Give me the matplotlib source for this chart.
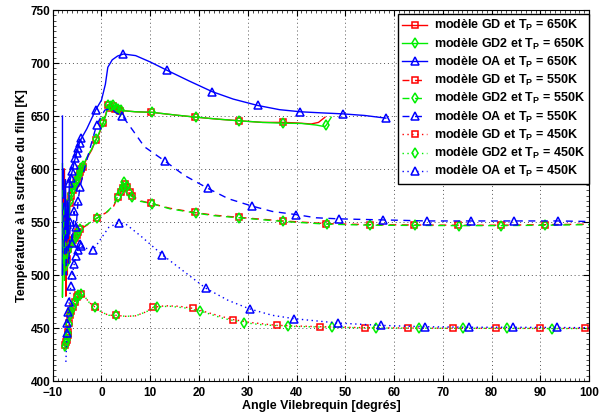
import matplotlib
matplotlib.use("Agg")
import matplotlib.pyplot as plt
from matplotlib.ticker import MultipleLocator

plt.rcParams['font.family'] = ['Liberation Sans', 'DejaVu Sans']
plt.rcParams['font.weight'] = 'bold'
plt.rcParams['mathtext.fontset'] = 'custom'
plt.rcParams['mathtext.rm'] = 'Liberation Sans:bold'
plt.rcParams['mathtext.bf'] = 'Liberation Sans:bold'
plt.rcParams['mathtext.it'] = 'Liberation Sans:bold'

# ---------------- data (x = crank angle [deg], y = temperature [K], m = marker shown) -------------
# GD, Tp = 650K
gd650_x = [-7.6, -7.5, -7.4, -7.3, -7.2, -7.0, -6.9, -6.7, -6.5, -6.2, -5.9, -5.6, -5.3, -5.0, -4.7, -4.4, -4.1, -3.8,
           -3.0, -2.0, -1.2, -0.5, 0.3, 0.8, 1.3, 1.8, 2.3, 2.8, 3.3, 3.8, 4.5, 7.0, 10.2, 15.0, 19.1, 24.0, 28.1, 33.0,
           37.2, 40.0, 43.0, 44.5, 45.8]
gd650_y = [600, 520, 590, 480, 560, 500, 540, 520, 568, 575, 580, 584, 587, 590, 593, 597, 600, 602,
           610, 618, 627, 633, 643, 650, 660, 658, 659, 657, 657, 655, 655, 654, 653.5, 651, 649, 647, 645.6, 644,
           644, 643.5, 642.5, 644, 648.8]
gd650_m = [0, 0, 0, 0, 0, 0, 0, 0, 1, 1, 1, 1, 1, 1, 1, 1, 1, 1,
           0, 0, 1, 0, 1, 0, 1, 1, 1, 1, 1, 1, 0, 0, 1, 0, 1, 0, 1, 0,
           1, 0, 0, 0, 0]

# GD2, Tp = 650K
gd2650_x = [-8.0, -8.0, -7.8, -7.6, -7.4, -7.2, -7.0, -6.8, -6.5, -6.2, -5.9, -5.6, -5.3, -5.0, -4.7, -4.4, -4.1, -3.8,
            -3.0, -2.0, -1.1, -0.5, 0.4, 0.9, 1.4, 1.9, 2.4, 2.9, 3.4, 3.9, 4.5, 7.0, 10.4, 15.0, 19.3, 24.0, 28.2, 33.0,
            37.3, 41.0, 44.0, 45.8, 46.1, 47.1]
gd2650_y = [605, 479, 560, 500, 580, 510, 550, 525, 570, 576, 581, 585, 588, 591, 594, 598, 601, 603,
            611, 619, 628, 634, 644, 651, 660, 659, 660, 658, 657, 656, 655, 654, 653.5, 651, 649, 647, 645.5, 644,
            643.2, 643, 641.5, 640, 641.5, 648.8]
gd2650_m = [0, 0, 0, 0, 0, 0, 0, 0, 1, 1, 1, 1, 1, 1, 1, 1, 1, 1,
            0, 0, 1, 0, 1, 0, 1, 1, 1, 1, 1, 1, 0, 0, 1, 0, 1, 0, 1, 0,
            1, 0, 0, 0, 1, 0]

# OA, Tp = 650K
oa650_x = [-8.0, -8.0, -7.8, -7.6, -7.4, -7.2, -7.0, -6.8, -6.6, -6.3, -6.0, -5.7, -5.4, -5.1, -4.8, -4.5, -4.1,
           -3.0, -1.2, 0.0, 0.8, 1.3, 2.2, 3.3, 4.5, 7.0, 10.0, 13.5, 18.0, 22.7, 27.0, 32.0, 36.5, 40.8, 45.0,
           49.6, 54.0, 58.3]
oa650_y = [650, 500, 600, 520, 590, 510, 570, 530, 587, 592, 598, 604, 610, 615, 620, 625, 629,
           638, 655.7, 665, 680, 696, 703, 706.6, 708.5, 707, 701, 693, 683, 673, 666, 660, 656, 654, 653,
           652, 650.5, 648]
oa650_m = [0, 0, 0, 0, 0, 0, 0, 0, 1, 1, 1, 1, 1, 1, 1, 1, 1,
           0, 1, 0, 0, 0, 0, 0, 1, 0, 0, 1, 0, 1, 0, 1, 0, 1, 0,
           1, 0, 1]

# GD, Tp = 550K
gd550_x = [-7.8, -7.7, -7.6, -7.5, -7.4, -7.2, -7.0, -6.8, -6.3, -5.8, -5.5, -5.1, -4.8, -4.4, -3.0, -1.0, 1.0, 2.5,
           3.4, 4.0, 4.5, 4.8, 5.3, 5.8, 6.3, 8.0, 10.1, 14.0, 19.1, 23.0, 28.1, 37.2, 46.1, 55.0, 64.1, 73.1, 81.9,
           90.9, 100.0]
gd550_y = [572, 520, 560, 500, 540, 505, 515, 525, 530, 533, 535, 538, 541, 543, 547, 553.5, 559, 565,
           574, 578, 582, 586, 583, 578, 574.5, 570, 567.6, 563, 559, 556.5, 554.4, 551, 548.5, 547.5, 547.2, 547, 547,
           547.5, 548]
gd550_m = [0, 0, 0, 0, 0, 0, 1, 1, 1, 1, 1, 1, 1, 1, 0, 1, 0, 0,
           1, 1, 1, 1, 1, 1, 1, 0, 1, 0, 1, 0, 1, 1, 1, 1, 1, 1, 1,
           1, 0]

# GD2, Tp = 550K
gd2550_x = [-7.9, -7.8, -7.7, -7.6, -7.4, -7.2, -7.0, -6.8, -6.3, -5.8, -5.5, -5.1, -4.8, -4.4, -3.0, -1.0, 1.0, 2.5,
            3.3, 3.9, 4.4, 4.7, 5.2, 5.7, 6.2, 8.0, 10.3, 14.0, 19.3, 23.0, 28.2, 37.3, 46.2, 55.1, 64.2, 73.2, 82.0,
            91.0, 100.0]
gd2550_y = [580, 510, 565, 495, 545, 500, 512, 523, 529, 532, 535, 538, 541, 543.5, 547.5, 553.5, 559, 566,
            574, 579, 583, 588, 584, 578, 574, 569.5, 567.4, 562.5, 558.5, 556, 554, 550.5, 548, 547, 546.8, 546.6, 546.6,
            547, 547.5]
gd2550_m = gd550_m

# OA, Tp = 550K
oa550_x = [-7.8, -7.6, -7.4, -7.2, -7.0, -6.7, -6.4, -6.0, -5.6, -5.2, -4.8, -4.4, -3.5, -2.2, -1.0, 0.0, 0.7, 2.0,
           3.0, 4.3, 6.5, 8.8, 13.0, 17.0, 21.8, 26.0, 30.9, 35.0, 39.9, 44.0, 48.6, 53.0, 57.7, 66.8, 75.7, 84.6,
           93.7, 100.0]
oa550_y = [580, 520, 570, 500, 560, 510, 550, 530, 560, 545, 570, 583, 600, 622, 641.5, 650, 655.7, 657,
           653, 650, 636, 621, 607.5, 594, 581.8, 572, 565, 560, 557, 554, 553, 552.5, 552, 551, 551, 551,
           551, 550.5]
oa550_m = [0, 0, 0, 0, 0, 0, 1, 1, 1, 1, 1, 1, 0, 0, 1, 0, 0, 0,
           0, 1, 0, 0, 1, 0, 1, 0, 1, 0, 1, 0, 1, 0, 1, 1, 1, 1,
           1, 0]

# GD, Tp = 450K
gd450_x = [-7.6, -7.5, -7.3, -7.1, -6.9, -6.8, -6.6, -6.5, -6.2, -5.8, -5.5, -5.1, -4.8, -4.3, -3.5, -2.5, -1.4, 0.0,
           1.5, 2.9, 5.0, 7.0, 9.0, 10.6, 13.0, 16.0, 18.8, 23.0, 26.9, 31.0, 36.0, 44.9, 54.0, 62.9, 72.0, 80.9,
           89.9, 99.1]
gd450_y = [430, 434, 437, 439, 443, 446, 455, 462, 466, 470, 475, 479, 481, 482.5, 480, 474, 470, 465,
           462, 462, 461, 461.5, 465, 469.5, 471, 470.5, 468.5, 463, 458, 455, 452.5, 451.2, 450.3, 450, 449.8, 449.7,
           449.7, 449.7]
gd450_m = [0, 1, 1, 1, 1, 1, 1, 1, 1, 1, 1, 1, 1, 1, 0, 0, 1, 0,
           0, 1, 0, 0, 0, 1, 0, 0, 1, 0, 1, 0, 1, 1, 1, 1, 1, 1,
           1, 1]

# GD2, Tp = 450K
gd2450_x = [-7.6, -7.5, -7.3, -7.1, -6.9, -6.8, -6.6, -6.5, -6.2, -5.8, -5.5, -5.1, -4.8, -4.3, -3.5, -2.5, -1.4, 0.0,
            1.5, 2.9, 5.0, 7.0, 9.0, 11.4, 14.0, 17.0, 20.3, 25.0, 29.3, 33.0, 38.2, 47.2, 56.2, 65.2, 74.1, 83.1,
            92.3, 100.0]
gd2450_y = [428, 433, 436, 438.7, 442, 445, 454, 462, 466, 470, 474.8, 478.5, 481, 482.5, 480, 474, 470, 465,
            462, 462, 461, 461.5, 465, 470, 470.5, 469, 466, 459, 455, 453, 451.6, 450.7, 450, 449.8, 449.7, 449.7,
            449.5, 449.5]
gd2450_m = [0, 1, 1, 1, 1, 1, 1, 1, 1, 1, 1, 1, 1, 1, 0, 0, 1, 0,
            0, 1, 0, 0, 0, 1, 0, 0, 1, 0, 1, 0, 1, 1, 1, 1, 1, 1,
            1, 0]

# OA, Tp = 450K
oa450_x = [-7.3, -7.2, -7.1, -7.0, -6.8, -6.6, -6.3, -6.0, -5.6, -5.2, -4.8, -4.4, -4.1, -3.0, -1.7, 0.0, 1.5, 3.5,
           5.0, 8.0, 12.5, 17.0, 21.4, 26.0, 30.4, 35.0, 39.5, 48.4, 57.3, 66.3, 75.3, 84.3, 93.3, 100.0]
oa450_y = [418, 430, 445, 455, 465, 475, 490, 500, 510, 518, 524, 529, 527, 525, 523.6, 535, 545, 549.3,
           548, 537, 519, 503, 487.5, 476, 468, 462, 458.8, 454.7, 452.5, 451.2, 450.7, 450.7, 450.5, 450.3]
oa450_m = [0, 0, 1, 1, 1, 1, 1, 1, 1, 1, 1, 1, 1, 0, 1, 0, 0, 1,
           0, 0, 1, 0, 1, 0, 1, 0, 1, 1, 1, 1, 1, 1, 1, 0]

labels = [r'modèle GD et $\mathbf{T_P}$ = 650K',
          r'modèle GD2 et $\mathbf{T_P}$ = 650K',
          r'modèle OA et $\mathbf{T_P}$ = 650K',
          r'modèle GD et $\mathbf{T_P}$ = 550K',
          r'modèle GD2 et $\mathbf{T_P}$ = 550K',
          r'modèle OA et $\mathbf{T_P}$ = 550K',
          r'modèle GD et $\mathbf{T_P}$ = 450K',
          r'modèle GD2 et $\mathbf{T_P}$ = 450K',
          r'modèle OA et $\mathbf{T_P}$ = 450K']

xticks = [-10, 0, 10, 20, 30, 40, 50, 60, 70, 80, 90, 100]
yticks = [400, 450, 500, 550, 600, 650, 700, 750]

series = [
    (gd650_x, gd650_y, gd650_m, '#ff0000', '-', 's'),
    (gd2650_x, gd2650_y, gd2650_m, '#00ee00', '-', 'd'),
    (oa650_x, oa650_y, oa650_m, '#0000ff', '-', '^'),
    (gd550_x, gd550_y, gd550_m, '#ff0000', '--', 's'),
    (gd2550_x, gd2550_y, gd2550_m, '#00ee00', '--', 'd'),
    (oa550_x, oa550_y, oa550_m, '#0000ff', '--', '^'),
    (gd450_x, gd450_y, gd450_m, '#ff0000', ':', 's'),
    (gd2450_x, gd2450_y, gd2450_m, '#00ee00', ':', 'd'),
    (oa450_x, oa450_y, oa450_m, '#0000ff', ':', '^'),
]

fig = plt.figure(figsize=(6.01, 4.18), dpi=100)
ax = fig.add_axes([0.0877, 0.0885, 0.8927, 0.8875])

for (x, y, m, c, ls, mk), lab in zip(series, labels):
    idx = [i for i, v in enumerate(m) if v]
    ms = 5.5 if mk == '^' else (4.5 if mk == 's' else 5.5)
    kw = {}
    if ls == '--':
        kw['dashes'] = (5, 4)
    elif ls == ':':
        kw['dashes'] = (1, 2.5)
    ax.plot(x, y, linestyle=ls, color=c, lw=1.0, marker=mk, markevery=idx,
            markersize=ms, markerfacecolor='none', markeredgecolor=c,
            markeredgewidth=1.1, label=lab, **kw)

ax.set_xlim(-10, 100)
ax.set_ylim(400, 750)
ax.set_xticks(xticks)
ax.set_yticks(yticks)
ax.xaxis.set_minor_locator(MultipleLocator(1))
ax.yaxis.set_minor_locator(MultipleLocator(5))
ax.tick_params(which='both', direction='in', top=True, right=True, labelsize=8.5)
ax.tick_params(axis='x', which='major', pad=4)
ax.tick_params(axis='y', which='major', pad=1.5)
ax.tick_params(which='major', length=4, width=0.8)
ax.tick_params(which='minor', length=2, width=0.5)
for lab in ax.get_xticklabels() + ax.get_yticklabels():
    lab.set_fontweight('bold')
ax.grid(True, which='major', linestyle=(0, (1, 3)), color='#555555', lw=0.7)
for s in ax.spines.values():
    s.set_linewidth(0.8)

ax.set_xlabel('Angle Vilebrequin [degrés]', fontsize=9, fontweight='bold', labelpad=1)
ax.set_ylabel('Température à la surface du film [K]', fontsize=9, fontweight='bold', labelpad=2)

leg = ax.legend(loc='upper right', bbox_to_anchor=(589 / 601, 1 - 14 / 418),
                bbox_transform=fig.transFigure, prop={'weight': 'bold', 'size': 9},
                handlelength=2.0, labelspacing=0.25, borderpad=0.35, handletextpad=0.5,
                fancybox=False, framealpha=1, edgecolor='black', borderaxespad=0)
leg.get_frame().set_linewidth(1.0)

fig.savefig('out.png', dpi=100)
